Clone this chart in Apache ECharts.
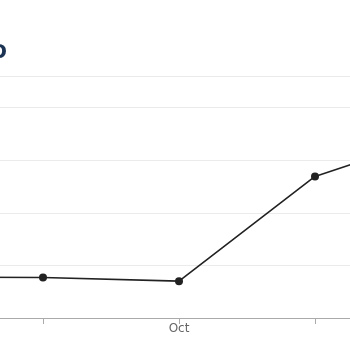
<!DOCTYPE html>
<html>
<head>
<meta charset="utf-8">
<script src="https://cdn.jsdelivr.net/npm/echarts@6/dist/echarts.min.js"></script>
<style>html,body{margin:0;padding:0;background:#fff;overflow:hidden;width:350px;height:350px;position:relative}#c{position:absolute;left:-96px;top:0;width:550px;height:350px}</style>
</head>
<body>
<div id="c"></div>
<script>
const categories = ['Aug', 'Sep', 'Oct', 'Nov', 'Dec'];
const values = [7.8, 7.7, 7.0, 26.9, 35.5];
const shownLabels = ['Oct'];

const chart = echarts.init(document.getElementById('c'));
chart.setOption({
  animation: false,
  backgroundColor: '#fff',
  grid: { left: 0, right: 0, top: 76, bottom: 32, containLabel: false },
  graphic: [{
    type: 'text', left: 86, top: 43,
    style: { text: 'O', fill: '#1c3354', font: 'bold 20px "DejaVu Sans"' }
  }],
  xAxis: {
    type: 'category', data: categories, boundaryGap: false,
    axisLine: { lineStyle: { color: '#aaa' } },
    axisTick: { interval: 0, length: 6, lineStyle: { color: '#aaa' } },
    axisLabel: {
      interval: 0, color: '#666', fontSize: 12, margin: 5, fontFamily: 'DejaVu Sans',
      formatter: v => shownLabels.includes(v) ? v : ''
    }
  },
  yAxis: {
    type: 'value', min: 0, max: 46, interval: 10,
    axisLabel: { show: false }, axisLine: { show: false }, axisTick: { show: false },
    splitLine: { lineStyle: { color: '#ebebeb' } }
  },
  series: [{
    type: 'line', data: values,
    symbol: 'circle', symbolSize: 8,
    lineStyle: { color: '#222', width: 1.6 },
    itemStyle: { color: '#222' }
  }]
});
</script>
</body>
</html>
